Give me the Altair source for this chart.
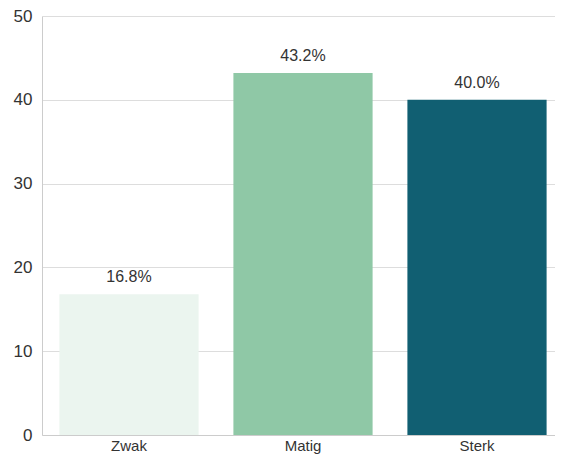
import altair as alt
import pandas as pd

categories = ["Zwak", "Matig", "Sterk"]
values = [16.8, 43.2, 40.0]
labels = ["16.8%", "43.2%", "40.0%"]
colors = ["#ebf5ef", "#8fc8a6", "#115f72"]

df = pd.DataFrame({"cat": categories, "val": values, "lab": labels})

FONT = "Liberation Sans"

x = alt.X("cat:N", sort=categories, title=None,
          scale=alt.Scale(paddingInner=0.2, paddingOuter=0.1, range=[0, 522]),
          axis=alt.Axis(labelAngle=0, labelFontSize=15, labelColor="#333333",
                        labelFont=FONT, ticks=False, domain=True,
                        domainColor="#cccccc", labelPadding=3))
y = alt.Y("val:Q", title=None,
          scale=alt.Scale(domain=[0, 50]),
          axis=alt.Axis(values=[0, 10, 20, 30, 40, 50], labelFontSize=17,
                        labelColor="#333333", labelFont=FONT, ticks=False,
                        domainColor="#cccccc", gridColor="#dddddd",
                        labelPadding=10))

bars = alt.Chart(df).mark_bar().encode(
    x=x, y=y,
    color=alt.Color("cat:N", sort=categories,
                    scale=alt.Scale(domain=categories, range=colors), legend=None),
)

text = alt.Chart(df).mark_text(baseline="alphabetic", dy=-12, fontSize=16,
                               font=FONT, color="#333333").encode(
    x=alt.X("cat:N", sort=categories), y="val:Q", text="lab:N")

chart = (bars + text).properties(
    width=513, height=419,
    autosize=alt.AutoSizeParams(type="none"),
    padding={"left": 34, "top": 8, "right": 0, "bottom": 20},
).configure_view(stroke=None).configure_axis(gridWidth=1)

chart.save("out.html", embed_options={"renderer": "svg", "actions": False})
